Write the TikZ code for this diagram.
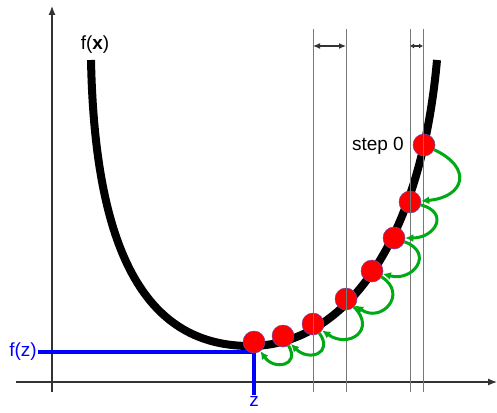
\documentclass[tikz,border=0pt]{standalone}
\usepackage{fontspec}
\setmainfont{Liberation Sans}
\usepackage{tikz}
\usetikzlibrary{arrows.meta,positioning,calc}
\definecolor{hopgreen}{RGB}{0,170,20}
\definecolor{dotred}{RGB}{255,0,0}
\definecolor{dotrim}{RGB}{110,70,170}
\definecolor{guidegray}{RGB}{120,120,120}

\begin{document}
\begin{tikzpicture}[x=1pt,y=1pt,
  axis/.style={-{Latex[length=9pt,width=7pt]},line width=1.2pt,black!80},
  guide/.style={line width=0.8pt,guidegray},
  gap/.style={{Latex[length=7pt,width=6pt]}-{Latex[length=7pt,width=6pt]},line width=1.2pt,black!80},
  smallgap/.style={{Latex[length=4pt,width=5pt]}-{Latex[length=4pt,width=5pt]},line width=1.2pt,black!80},
  fn/.style={line width=8pt,black},
  zline/.style={line width=4pt,blue},
  dot/.style={circle,fill=dotred,draw=dotrim,line width=0.5pt,minimum size=22pt,inner sep=0pt},
  hop/.style={-{Latex[length=8pt,width=8pt]},line width=3pt,hopgreen,looseness=2.1},
  lbl/.style={font=\fontsize{19}{22}\selectfont,inner sep=1pt}
]
\useasboundingbox (0,0) rectangle (497,-412);
% axes
\draw[axis] (52,-392) -- (52,-6);
\draw[axis] (16,-382) -- (497,-382);
% the function
\draw[fn] (91,-60) .. controls (95,-260) and (150,-346) .. (250,-346)
          .. controls (340,-346) and (420,-250) .. (437,-60);
\node[lbl] (fx) at (95,-45) {f(\textbf{x})};
% minimum
\node[lbl,blue,anchor=east] (fz) at (38,-352) {f(z)};
\coordinate (zpt) at (254,-352);
\node[lbl,blue,anchor=north] (zl) at (254,-395) {z};
\draw[zline] (fz.east) -- (zpt) -- (zl.north);
% iterates
\node[dot] (d0) at (424,-145) {};
\node[dot] (d1) at (410,-202) {};
\node[dot] (d2) at (394,-238) {};
\node[dot] (d3) at (372,-271) {};
\node[dot] (d4) at (346,-299) {};
\node[dot] (d5) at (313,-324) {};
\node[dot] (d6) at (283,-336) {};
\node[dot] (d7) at (254,-342) {};
\node[lbl,anchor=east] (s0) at (405,-146) {step 0};
% step widths
\foreach \x in {313,346,410,423}
  \draw[guide] (\x,-29) -- (\x,-392);
\draw[gap] (313,-46) -- (346,-46);
\draw[smallgap] (410,-46) -- (423,-46);
% hops
\draw[hop] (d0) to[out=-25,in=5] (d1);
\draw[hop] (d1) to[out=-15,in=0] (d2);
\draw[hop] (d2) to[out=-20,in=-15] (d3);
\draw[hop] (d3) to[out=-32,in=-35] (d4);
\draw[hop] (d4) to[out=-45,in=-35] (d5);
\draw[hop] (d5) to[out=-55,in=-45] (d6);
\draw[hop] (d6) to[out=-60,in=-55] (d7);
\end{tikzpicture}
\end{document}
